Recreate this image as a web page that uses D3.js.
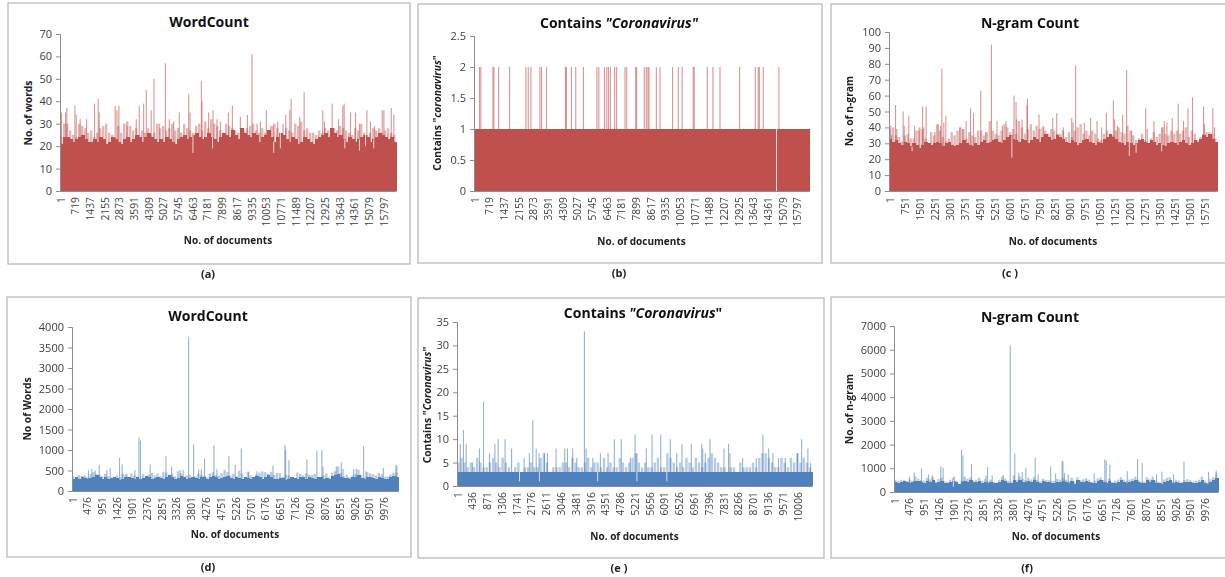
<!DOCTYPE html>
<html>
<head>
<meta charset="utf-8">
<script src="https://cdn.jsdelivr.net/npm/d3@7"></script>
<style>
  html, body { margin: 0; padding: 0; background: #fff; overflow: hidden; }
  svg { display: block; filter: blur(0.35px); }
  text { font-family: "Open Sans", sans-serif; }
  .tick text { fill: #404040; }
  .panel-title { font-weight: 700; fill: #111; }
  .axis-label, .caption { font-weight: 700; fill: #222; }
</style>
</head>
<body>
<div id="figure"></div>
<script>
// Six document statistics panels. Values are read off the picture by eye:
// floor = solid body, crest = pale stems just above it, spikes = tall single
// documents, dips = single documents that fall below the body.

const RED = '#c0504d';
const BLUE = '#4f81bd';

// (a) WordCount
const floorA = [21,24,24,23,22,23,24,25,23,22,22,23,22,24,23,21,22,24,23,22,21,23,24,22,23,25,24,22,24,26,24,23,22,23,22,24,23,22,21,23,24,25,23,24,25,26,24,23,24,26,24,23,22,24,26,25,24,27,25,23,28,26,25,24,26,25,22,24,25,27,24,22,24,26,25,23,22,24,23,21,22,24,23,22,21,23,24,25,26,24,28,26,24,25,23,22,24,23,22,23,24,25,24,22,23,24,26,25,24,23,24,22];
const crestA = [24,30,30,27,25,24,30,29,28,26,27,24,26,28,29,30,26,25,24,29,26,30,31,29,27,28,25,27,26,28,25,26,30,28,29,27,28,30,27,28,26,30,28,27,26,29,30,27,31,28,32,30,29,27,26,30,29,28,27,26,25,27,28,29,30,27,26,28,26,27,29,30,28,26,25,28,27,26,30,29,31,27,28,26,26,25,27,26,28,27,26,28,27,29,28,27,26,25,28,27,30,26,25,26,28,27,28,26,27,28,26,25];
const spikeDocsA = [50,245,310,700,765,960,1270,1660,1840,1890,2670,2755,2850,3245,3700,3845,4060,4190,4430,4565,4825,5120,5315,5525,5800,6260,6325,6880,6910,7235,7450,7645,7810,8200,8395,8785,9130,9355,9600,9765,10055,10385,10610,10870,11000,11200,11265,11685,11900,12810,12895,13270,13580,13790,13855,14165,14410,14605,14965,15140,15340,15715,15795,16155,16285];
const spikeValuesA = [35,35,37,38,34,32,32,39,41,35,38,36,38,29,32,38,39,45,36,50,30,57,32,31,35,43,35,49,40,35,36,32,31,35,38,33,34,61,30,31,36,29,31,30,34,36,41,33,44,36,31,39,32,38,39,35,35,30,36,31,29,36,36,37,34];
const dipDocsA = [6470,7430,10415,10740,13890,14605,14900,15305];
const dipValuesA = [17,19,17,19,19,18,20,19];
const xTicksA = [1,719,1437,2155,2873,3591,4309,5027,5745,6463,7181,7899,8617,9335,10053,10771,11489,12207,12925,13643,14361,15079,15797];
const yTicksA = [0,10,20,30,40,50,60,70];

// (b) Contains "Coronavirus"
const floorB = [1];
const crestB = [];
const spikeDocsB = [245,310,900,950,1180,1715,2515,2630,2760,3200,3280,3525,4450,4500,4745,4955,5330,5990,6085,6360,6475,6555,6650,6860,6955,7365,7450,7890,7935,8310,8410,8490,8540,8900,9080,9695,9975,10165,10705,10755,11395,11670,12015,12975,13745,13890,13940,14135,14900];
const spikeValuesB = [2,2,2,2,2,2,2,2,2,2,2,2,2,2,2,2,2,2,2,2,2,2,2,2,2,2,2,2,2,2,2,2,2,2,2,2,2,2,2,2,2,2,2,2,2,2,2,2,2];
const dipDocsB = [14785];
const dipValuesB = [0];
const xTicksB = xTicksA;
const yTicksB = [0,0.5,1,1.5,2,2.5];

// (c) N-gram Count
const floorC = [33,31,32,30,29,31,30,28,30,29,27,29,31,30,29,30,31,30,28,30,31,29,28,29,30,32,30,29,28,30,29,31,32,30,31,32,33,31,30,32,34,35,33,32,31,33,32,30,32,34,33,31,34,36,34,32,33,35,34,33,31,30,32,31,29,30,32,33,31,30,29,31,30,33,34,36,34,33,31,30,29,31,30,29,30,32,33,31,30,32,31,29,30,29,28,30,31,30,29,31,32,30,29,30,32,31,33,35,34,36,33,31];
const crestC = [41,40,35,34,31,35,36,33,33,38,40,39,33,30,37,35,42,38,34,31,33,37,35,38,40,39,33,37,35,34,38,38,35,37,44,38,36,35,38,42,40,37,39,36,44,40,36,39,42,38,41,39,40,38,36,39,38,36,36,38,34,37,34,38,40,42,36,38,35,38,36,33,32,36,38,36,35,38,40,37,36,41,38,35,32,33,36,32,30,33,37,34,36,40,36,35,38,36,38,36,38,40,34,38,36,32,34,36,37,37,36,33];
const spikeDocsC = [20,100,300,365,680,735,965,1250,1480,1650,1715,1830,2265,2430,2550,2615,2715,2815,3515,3665,3830,4050,4200,4560,4810,5095,5375,5645,5825,6225,6325,6360,6625,6875,6895,7475,7710,8160,8360,8690,9110,9175,9305,9740,10055,10375,10605,10840,11190,11255,11390,11655,11855,12105,12805,12885,13220,13620,13735,13870,14135,14435,14700,14920,15150,15700,15750,16165,16250];
const spikeValuesC = [39,35,54,39,50,41,47,41,38,53,40,53,37,42,41,77,43,47,40,39,44,52,49,63,37,92,44,41,44,60,56,45,45,54,58,48,41,46,49,40,46,43,79,43,46,44,40,49,57,45,41,48,76,38,52,39,44,40,44,43,46,55,44,52,59,53,42,52,40];
const dipDocsC = [1130,6120,11990,12330,13610];
const dipValuesC = [25,21,22,24,25];
const xTicksC = [1,751,1501,2251,3001,3751,4501,5251,6001,6751,7501,8251,9001,9751,10501,11251,12001,12751,13501,14251,15001,15751];
const yTicksC = [0,10,20,30,40,50,60,70,80,90,100];

// (d) WordCount
const floorD = [290,330,300,340,310,290,320,350,380,340,300,330,290,310,340,320,280,300,330,350,320,290,340,300,310,360,330,290,310,340,320,300,340,380,350,300,320,360,330,290,310,340,310,300,330,350,300,340,370,330,290,320,340,360,310,290,350,320,300,330,310,290,340,360,340,300,330,390,350,300,290,320,310,280,300,340,320,300,350,330,290,340,310,300,350,330,300,320,290,360,380,420,340,310,320,300,330,350,400,320,290,330,340,310,300,350,320,290,300,340,360,350];
const crestD = [360,340,390,370,380,340,420,460,410,400,360,420,360,300,350,380,340,420,400,330,430,380,350,300,410,360,400,440,380,430,360,470,450,400,420,360,480,430,350,380,400,350,360,420,400,370,330,430,460,390,380,430,520,460,380,420,360,490,430,300,470,380,340,400,450,480,460,420,470,390,440,430,350,400,380,340,300,450,420,380,430,400,390,420,340,330,380,430,320,450,480,600,440,360,400,340,380,420,520,380,330,460,430,410,380,440,410,350,360,400,450,450];
const spikeDocsD = [510,620,725,855,1100,1205,1505,1590,1740,1995,2125,2175,2485,2990,3170,3445,3540,3715,3875,4035,4120,4225,4525,4620,5005,5205,5400,5635,5900,6415,6795,6820,6925,7500,7820,7980,8015,8440,8600,8655,8995,9080,9315,9390,9945,10350,10380];
const spikeValuesD = [500,530,500,640,510,560,810,650,420,510,1310,1230,640,850,600,510,510,3760,1130,530,530,790,1120,530,850,640,1040,470,480,620,1120,1000,750,770,980,1000,600,600,700,540,540,540,1100,480,560,640,620];
const dipDocsD = [];
const dipValuesD = [];
const xTicksD = [1,476,951,1426,1901,2376,2851,3326,3801,4276,4751,5226,5701,6176,6651,7126,7601,8076,8551,9026,9501,9976];
const yTicksD = [0,500,1000,1500,2000,2500,3000,3500,4000];

// (e) Contains "Coronavirus"
const floorE = [3];
const crestE = [5,6,5,4,5,4,6,5,4,4,5,6,5,4,6,5,4,3,4,5,3,4,4,5,4,4,6,7,5,3,4,4,4,5,5,4,6,5,4,4,5,6,4,5,5,4,6,4,5,4,4,6,5,4,5,6,7,5,4,5,4,4,5,6,4,4,7,6,5,4,5,4,6,5,4,6,5,4,5,6,7,6,5,4,4,3,4,4,3,5,4,4,4,5,4,6,7,7,6,5,4,4,6,5,4,6,5,7,5,6,5,4];
const spikeDocsE = [80,175,255,440,645,765,940,1100,1195,1400,1590,1960,2115,2215,2315,2400,2560,2645,2900,3155,3235,3390,3510,3735,3785,3980,4205,4430,4615,4820,5085,5225,5280,5555,5725,5980,6260,6450,6605,6880,7185,7215,7290,7430,7840,7975,8015,8390,8790,8985,9155,9280,9445,9645,10005,10125,10310,10390];
const spikeValuesE = [9,12,9,5,8,18,7,9,10,10,8,6,7,14,8,7,7,7,8,8,8,8,6,33,8,6,7,7,10,10,6,11,7,8,11,11,10,7,9,9,9,8,7,10,8,9,7,6,6,11,8,7,6,6,7,10,8,5];
const dipDocsE = [1825,2410,4125,5280,6160];
const dipValuesE = [1,1,1,1,1];
const xTicksE = [1,436,871,1306,1741,2176,2611,3046,3481,3916,4351,4786,5221,5656,6091,6526,6961,7396,7831,8266,8701,9136,9571,10006];
const yTicksE = [0,5,10,15,20,25,30,35];

// (f) N-gram Count
const floorF = [440,400,430,460,420,390,430,450,480,420,400,470,430,500,390,430,470,400,380,440,480,420,330,410,480,440,490,410,430,480,400,440,390,430,380,360,420,500,450,400,380,520,420,490,440,410,480,430,510,440,390,450,430,410,400,400,440,420,480,430,390,480,350,500,420,430,470,430,360,400,450,490,420,380,450,370,400,430,500,430,400,440,450,510,430,380,380,490,430,520,400,370,350,430,480,500,380,430,400,370,420,440,420,380,400,430,520,400,350,440,500,600];
const crestF = [510,470,520,500,460,520,480,650,560,500,480,600,530,620,450,540,600,450,430,520,600,480,350,480,650,560,620,480,520,600,460,540,450,520,440,400,520,640,560,480,450,700,500,650,560,500,600,530,640,520,450,560,520,500,460,470,550,520,600,520,450,600,400,620,500,540,580,520,420,480,560,620,500,440,560,420,480,520,620,520,470,530,560,640,520,440,440,620,530,650,480,420,400,530,600,620,450,520,480,420,500,540,500,430,470,520,650,480,400,540,620,780];
const spikeDocsF = [480,630,865,1090,1210,1485,1560,1915,2150,2195,2470,2940,2985,3135,3490,3715,3860,3990,4100,4215,4515,4610,5010,5170,5380,5405,5455,5575,6410,6750,6795,6910,7470,7800,7950,8410,8580,8955,9290,10080,10325];
const spikeValuesF = [650,830,970,740,700,1080,1020,660,1780,1540,1180,700,1050,700,720,6180,1620,800,850,1010,1450,730,1080,780,1310,1290,800,750,780,1380,1320,1150,880,1380,1220,750,870,750,1280,850,900];
const dipDocsF = [1890];
const dipValuesF = [220];
const xTicksF = xTicksD;
const yTicksF = [0,1000,2000,3000,4000,5000,6000,7000];

const panels = [
  { caption: '(a)', captionX: 208, colour: RED, title: ['WordCount'], yLabel: ['No. of words'], frame: [8, 3, 410, 264], plot: [60, 34, 396, 191], xMax: 16415, yMax: 70, floor: floorA, crest: crestA, spikeDocs: spikeDocsA, spikeValues: spikeValuesA, dipDocs: dipDocsA, dipValues: dipValuesA, xTicks: xTicksA, yTicks: yTicksA, titleX: 209, titleY: 27, yLabelX: 32, yLabelY: 113, xLabelY: 244 },
  { caption: '(b)', captionX: 619, colour: RED, title: ['Contains ', '"Coronavirus"'], yLabel: ['Contains "', 'coronavirus', '"'], frame: [418, 4, 822, 263], plot: [474, 36, 809, 191], xMax: 16400, yMax: 2.5, floor: floorB, crest: crestB, spikeDocs: spikeDocsB, spikeValues: spikeValuesB, dipDocs: dipDocsB, dipValues: dipValuesB, xTicks: xTicksB, yTicks: yTicksB, titleX: 619, titleY: 28, yLabelX: 441, yLabelY: 113, xLabelY: 245 },
  { caption: '(c )', captionX: 1010, colour: RED, title: ['N-gram Count'], yLabel: ['No. of n-gram'], frame: [831, 4, 1226, 263], plot: [889, 32, 1217, 191], xMax: 16400, yMax: 100, floor: floorC, crest: crestC, spikeDocs: spikeDocsC, spikeValues: spikeValuesC, dipDocs: dipDocsC, dipValues: dipValuesC, xTicks: xTicksC, yTicks: yTicksC, titleX: 1030, titleY: 28, yLabelX: 853, yLabelY: 111, xLabelY: 245 },
  { caption: '(d)', captionX: 208, colour: BLUE, title: ['WordCount'], yLabel: ['No of Words'], frame: [7, 297, 411, 557], plot: [72, 327, 398, 491], xMax: 10433, yMax: 4000, floor: floorD, crest: crestD, spikeDocs: spikeDocsD, spikeValues: spikeValuesD, dipDocs: dipDocsD, dipValues: dipValuesD, xTicks: xTicksD, yTicks: yTicksD, titleX: 208, titleY: 321, yLabelX: 31, yLabelY: 409, xLabelY: 538 },
  { caption: '(e )', captionX: 619, colour: BLUE, title: ['Contains  ', '"Coronavirus', '"'], yLabel: ['Contains  "', 'Coronavirus', '"'], frame: [418, 298, 824, 558], plot: [457, 322, 812, 486], xMax: 10447, yMax: 35, floor: floorE, crest: crestE, spikeDocs: spikeDocsE, spikeValues: spikeValuesE, dipDocs: dipDocsE, dipValues: dipValuesE, xTicks: xTicksE, yTicks: yTicksE, titleX: 643, titleY: 318, yLabelX: 431, yLabelY: 405, xLabelY: 540 },
  { caption: '(f)', captionX: 1027, colour: BLUE, title: ['N-gram Count'], yLabel: ['No. of n-gram'], frame: [831, 297, 1226, 558], plot: [894, 326, 1218, 492], xMax: 10400, yMax: 7000, floor: floorF, crest: crestF, spikeDocs: spikeDocsF, spikeValues: spikeValuesF, dipDocs: dipDocsF, dipValues: dipValuesF, xTicks: xTicksF, yTicks: yTicksF, titleX: 1030, titleY: 322, yLabelX: 853, yLabelY: 409, xLabelY: 540 }
];

const svg = d3.select('#figure').append('svg').attr('width', 1225).attr('height', 577);

function addRuns(selection, runs) {
  // runs holding the quoted word are set in italics, as in the original titles
  runs.forEach((run) => {
    selection.append('tspan').attr('font-style', /oronavirus/.test(run) ? 'italic' : 'normal').text(run);
  });
}

function drawPanel(p) {
  const [fx0, fy0, fx1, fy1] = p.frame;
  const [px0, py0, px1, py1] = p.plot;

  svg.append('rect')
    .attr('x', fx0).attr('y', fy0)
    .attr('width', fx1 - fx0).attr('height', fy1 - fy0)
    .attr('fill', '#fff').attr('stroke', '#b5b5b5').attr('stroke-width', 1.2);

  const x = d3.scaleLinear().domain([1, p.xMax]).range([px0, px1]);
  const y = d3.scaleLinear().domain([0, p.yMax]).range([py1, py0]);
  const g = svg.append('g');

  const stepOf = (arr) => (p.xMax - 1) / arr.length;
  const floorAt = (doc) => p.floor[Math.floor((doc - 1) / stepOf(p.floor))];

  // pale stems above the solid body
  g.selectAll('rect.crest').data(p.crest).join('rect')
    .attr('class', 'crest')
    .attr('x', (d, i) => x(1 + i * stepOf(p.crest)))
    .attr('y', (d) => y(d))
    .attr('width', 2.4)
    .attr('height', (d) => py1 - y(d))
    .attr('fill', p.colour).attr('opacity', 0.42);

  g.selectAll('rect.spike').data(p.spikeDocs).join('rect')
    .attr('class', 'spike')
    .attr('x', (d) => x(d))
    .attr('y', (d, i) => y(p.spikeValues[i]))
    .attr('width', 1.1)
    .attr('height', (d, i) => py1 - y(p.spikeValues[i]))
    .attr('fill', p.colour).attr('opacity', 0.6);

  // crisp edges so neighbouring bars do not leave seams in the solid body
  g.selectAll('rect.floor').data(p.floor).join('rect')
    .attr('class', 'floor')
    .attr('shape-rendering', 'crispEdges')
    .attr('x', (d, i) => x(1 + i * stepOf(p.floor)))
    .attr('y', (d) => y(d))
    .attr('width', (d, i) => x(1 + (i + 1) * stepOf(p.floor)) - x(1 + i * stepOf(p.floor)) + 0.5)
    .attr('height', (d) => py1 - y(d))
    .attr('fill', p.colour);

  // a dip is a thin notch cut down into the body
  g.selectAll('rect.dip').data(p.dipDocs).join('rect')
    .attr('class', 'dip')
    .attr('x', (d) => x(d))
    .attr('y', (d) => y(floorAt(d)))
    .attr('width', 1)
    .attr('height', (d, i) => y(p.dipValues[i]) - y(floorAt(d)))
    .attr('fill', '#fff').attr('opacity', 0.75);

  const xAxis = svg.append('g')
    .attr('transform', `translate(0,${py1})`)
    .call(d3.axisBottom(x).tickValues(p.xTicks).tickSize(0).tickFormat(String));
  xAxis.select('.domain').attr('stroke', '#8c8c8c');
  xAxis.selectAll('text')
    .attr('font-size', 10.3)
    .attr('transform', 'rotate(-90)')
    .attr('text-anchor', 'end')
    .attr('dominant-baseline', 'central')
    .attr('x', -6).attr('y', 0).attr('dy', null);

  const yAxis = svg.append('g')
    .attr('transform', `translate(${px0},0)`)
    .call(d3.axisLeft(y).tickValues(p.yTicks).tickSize(4).tickPadding(4).tickFormat(String));
  yAxis.selectAll('.domain, line').attr('stroke', '#8c8c8c');
  yAxis.selectAll('text').attr('font-size', 11);

  const title = svg.append('text').attr('class', 'panel-title')
    .attr('x', p.titleX).attr('y', p.titleY)
    .attr('text-anchor', 'middle').attr('font-size', 14);
  addRuns(title, p.title);

  const yLabel = svg.append('text').attr('class', 'axis-label')
    .attr('transform', `translate(${p.yLabelX},${p.yLabelY}) rotate(-90)`)
    .attr('text-anchor', 'middle').attr('font-size', 10.3);
  addRuns(yLabel, p.yLabel);

  svg.append('text').attr('class', 'axis-label')
    .attr('x', (px0 + px1) / 2).attr('y', p.xLabelY)
    .attr('text-anchor', 'middle').attr('font-size', 10)
    .text('No. of documents');

  svg.append('text').attr('class', 'caption')
    .attr('x', p.captionX).attr('y', fy1 + 14)
    .attr('text-anchor', 'middle').attr('font-size', 11)
    .text(p.caption);
}

panels.forEach(drawPanel);
</script>
</body>
</html>
